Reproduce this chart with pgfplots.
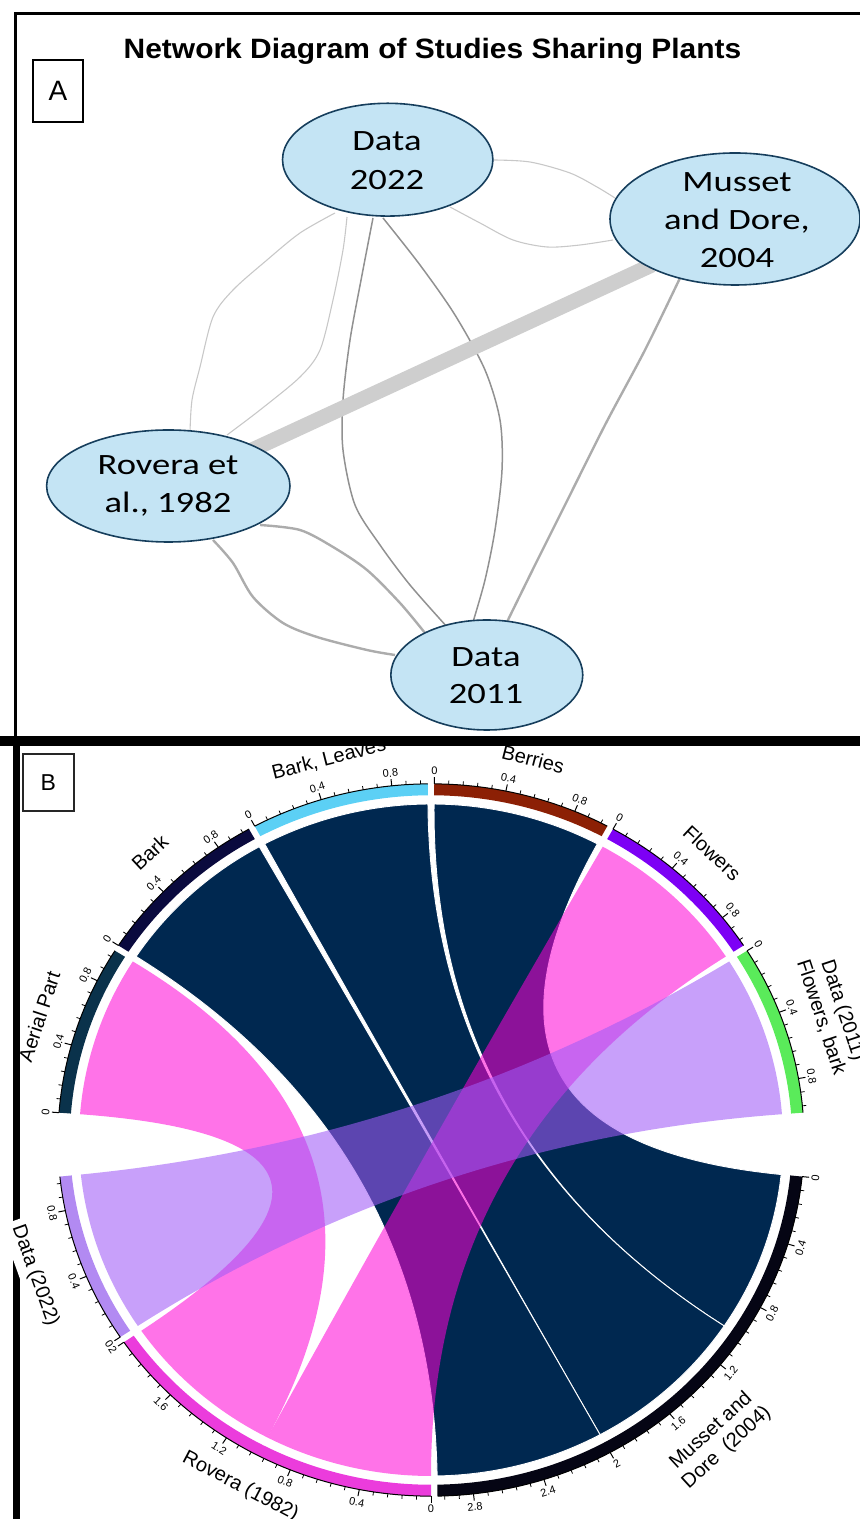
\documentclass[border=0pt]{standalone}
\usepackage{pgfplots}
\pgfplotsset{compat=1.18}
\usepackage{fontspec}
\setmainfont{Liberation Sans}
\newfontfamily\nodefont[FakeStretch=1.24]{Carlito}
\newfontfamily\titlefont[FakeStretch=1.07]{Liberation Sans}

% network colours
\definecolor{nodefill}{RGB}{196,228,244}
\definecolor{nodeedge}{RGB}{22,62,92}
\definecolor{edgelight}{RGB}{200,200,200}
\definecolor{edgemid}{RGB}{145,145,145}
\definecolor{edgedark}{RGB}{172,172,172}
\definecolor{bandgray}{RGB}{206,206,206}
% chord colours
\definecolor{navylink}{RGB}{0,40,80}
\definecolor{pinkbase}{RGB}{255,0,213}
\definecolor{lavbase}{RGB}{160,91,246}
\definecolor{cBerries}{RGB}{140,32,5}
\definecolor{cFlowers}{RGB}{125,0,245}
\definecolor{cDataA}{RGB}{90,235,90}
\definecolor{cMusset}{RGB}{5,5,20}
\definecolor{cRovera}{RGB}{235,60,220}
\definecolor{cDataB}{RGB}{178,138,242}
\definecolor{cAerial}{RGB}{10,50,75}
\definecolor{cBark}{RGB}{10,10,62}
\definecolor{cBarkLeaves}{RGB}{92,208,245}

% degrees of arc per shared plant, ring radii (link radius = 1)
\def\U{27.7}
\def\ri{1.026}
\def\ro{1.06}

% link between two sectors: style, start angle A, start angle B, value
% angles are measured clockwise from the top
\newcommand{\chordlink}[4]{%
  \pgfmathsetmacro{\aA}{90-#2}\pgfmathsetmacro{\aB}{90-#2-#4*\U}%
  \pgfmathsetmacro{\bA}{90-#3}\pgfmathsetmacro{\bB}{90-#3-#4*\U}%
  \path[#1] (\aA:1) arc[start angle=\aA, end angle=\aB, radius=1]
    .. controls (\aB:1/3) and (\bA:1/3) .. (\bA:1)
    arc[start angle=\bA, end angle=\bB, radius=1]
    .. controls (\bB:1/3) and (\aA:1/3) .. cycle;}

% outer ring of a sector with its scale: colour, start angle, value
\newcommand{\sector}[3]{%
  \pgfmathsetmacro{\sA}{90-#2}\pgfmathsetmacro{\sB}{90-#2-#3*\U}%
  \fill[#1] (\sA:\ri) arc[start angle=\sA, end angle=\sB, radius=\ri]
     -- (\sB:\ro) arc[start angle=\sB, end angle=\sA, radius=\ro] -- cycle;
  \draw[black, line width=0.5pt] (\sA:\ro) arc[start angle=\sA, end angle=\sB, radius=\ro];
  \pgfmathtruncatemacro{\nk}{#3/0.08+0.01}%
  \foreach \k in {0,...,\nk}{%
    \pgfmathsetmacro{\tph}{#2+\k*0.08*\U}%
    \pgfmathsetmacro{\tal}{90-\tph}%
    \pgfmathtruncatemacro{\maj}{mod(\k,5)==0 ? 1 : 0}%
    \ifnum\maj=1
      \draw[black, line width=0.5pt] (\tal:\ro) -- (\tal:\ro+0.02);
      \pgfmathsetmacro{\tv}{\k*0.08}%
      \pgfmathsetmacro{\trot}{(\tph>90 && \tph<270) ? 180-\tph : -\tph}%
      \node[font=\fontsize{5.5}{6}\selectfont, rotate=\trot, inner sep=0pt]
        at (\tal:1.098) {\pgfmathprintnumber[assume math mode=true]{\tv}};
    \else
      \draw[black, line width=0.4pt] (\tal:\ro) -- (\tal:\ro+0.011);
    \fi
  }}

% sector name: angle, radius, extra style, text
\newcommand{\seclabel}[4]{%
  \pgfmathsetmacro{\lrot}{(#1>90 && #1<270) ? 180-#1 : -#1}%
  \node[font=\fontsize{10}{11.5}\selectfont, rotate=\lrot, align=center,
    inner sep=1pt, #3] at (90-#1:#2) {#4};}

\begin{document}
\begin{tikzpicture}
\useasboundingbox (0pt,0pt) rectangle (430pt,759.5pt);

% panel frames
\fill[black] (0pt,386.25pt) rectangle (430pt,391.25pt);
\draw[line width=1.5pt] (7.75pt,386.5pt) -- (7.75pt,752.75pt) -- (432pt,752.75pt);
\fill[black] (6.5pt,0pt) rectangle (10pt,386.5pt);

% ---------------- panel A: network of studies ----------------
\begin{axis}[at={(0pt,389.5pt)}, anchor=south west,
  width=430pt, height=370pt, scale only axis,
  xmin=0, xmax=860, ymin=0, ymax=740, y dir=reverse,
  axis lines=none, clip=false]

% Data 2022 -- Rovera et al., 1982
\addplot[smooth, edgelight, line width=0.55pt] coordinates
  {(335,213) (300,233) (267,260) (233,290) (213,317) (200,367) (192,400) (190,432)};
\addplot[smooth, edgelight, line width=0.55pt] coordinates
  {(347,217) (343,250) (333,300) (320,350) (300,377) (260,410) (227,435)};
% Data 2022 -- Data 2011
\addplot[smooth, edgemid, line width=0.75pt] coordinates
  {(373,218) (362,275) (350,340) (343,400) (343,450) (355,505) (380,545)
   (410,585) (448,628)};
\addplot[smooth, edgemid, line width=0.75pt] coordinates
  {(383,218) (420,265) (455,315) (485,370) (500,420) (502,470) (495,530)
   (485,580) (473,622)};
% Data 2022 -- Musset and Dore, 2004
\addplot[smooth, edgelight, line width=0.55pt] coordinates
  {(493,160) (530,162) (570,173) (597,187) (615,198)};
\addplot[smooth, edgelight, line width=0.55pt] coordinates
  {(450,207) (480,223) (513,240) (547,247) (580,245) (613,240)};
% Rovera et al., 1982 -- Musset and Dore, 2004
\addplot[bandgray, line width=7.5pt] coordinates {(252,450) (652,265)};
% Musset and Dore, 2004 -- Data 2011
\addplot[smooth, edgedark, line width=1.2pt] coordinates
  {(680,278) (645,350) (605,425) (565,505) (535,565) (507,622)};
% Rovera et al., 1982 -- Data 2011
\addplot[smooth, edgedark, line width=1.2pt] coordinates
  {(260,525) (300,530) (333,547) (367,570) (400,603) (425,633)};
\addplot[smooth, edgedark, line width=1.2pt] coordinates
  {(213,540) (233,563) (253,597) (283,623) (317,637) (367,650) (395,655)};

% study nodes
\addplot[only marks, mark=*, mark size=28.2pt,
  mark options={xscale=1.865, fill=nodefill, draw=nodeedge, line width=0.8pt}]
  coordinates {(387.7,159.7)};
\addplot[only marks, mark=*, mark size=33pt,
  mark options={xscale=1.894, fill=nodefill, draw=nodeedge, line width=0.8pt}]
  coordinates {(735,219)};
\addplot[only marks, mark=*, mark size=28pt,
  mark options={xscale=2.173, fill=nodefill, draw=nodeedge, line width=0.8pt}]
  coordinates {(168.3,486)};
\addplot[only marks, mark=*, mark size=27.5pt,
  mark options={xscale=1.745, fill=nodefill, draw=nodeedge, line width=0.8pt}]
  coordinates {(486.8,675)};
\end{axis}

% node names
\node[font=\nodefont\fontsize{14.75}{19.5}\selectfont, align=center]
  at (193.5pt,679pt) {Data\\2022};
\node[font=\nodefont\fontsize{14.75}{19}\selectfont, align=center]
  at (368.5pt,649.5pt) {Musset\\and Dore,\\2004};
\node[font=\nodefont\fontsize{14.75}{19}\selectfont, align=center]
  at (84pt,516.5pt) {Rovera et\\al., 1982};
\node[font=\nodefont\fontsize{14.75}{18.5}\selectfont, align=center]
  at (243pt,421.5pt) {Data\\2011};

% title and panel tags
\node[font=\titlefont\bfseries\fontsize{14}{17}\selectfont, anchor=base]
  at (216.25pt,730pt) {Network Diagram of Studies Sharing Plants};
\draw[line width=1pt] (16.5pt,729.5pt) rectangle (41.5pt,698.5pt);
\node[font=\fontsize{14}{16}\selectfont] at (29pt,714pt) {A};
\draw[line width=0.9pt, black!85] (11.35pt,382.5pt) rectangle (37pt,354.15pt);
\node[font=\fontsize{11.5}{13}\selectfont] at (24.2pt,368.3pt) {B};

% ---------------- panel B: chord diagram ----------------
\begin{axis}[at={(0pt,0pt)}, anchor=south west,
  width=430pt, height=389.5pt, scale only axis,
  xmin=-1.22443, xmax=1.21875, ymin=-1.12798, ymax=1.19048,
  axis lines=none, clip=false]
\pgfplotsextra{%
\begin{scope}[shift={(axis cs:0,0)},
  x={(axis direction cs:1,0)}, y={(axis direction cs:0,1)}]
  % links of Musset and Dore (2004)
  \chordlink{fill=navylink, draw=white, line width=0.45pt}{0.5}{95.9}{1}
  \chordlink{fill=navylink, draw=white, line width=0.45pt}{331.8}{123.6}{1}
  \chordlink{fill=navylink, draw=white, line width=0.45pt}{303.1}{151.3}{1}
  % links of Rovera (1982)
  \chordlink{fill=pinkbase, fill opacity=0.55}{29.2}{180.0}{1}
  \chordlink{fill=pinkbase, fill opacity=0.55}{274.4}{207.7}{1}
  % link of Data (2022)
  \chordlink{fill=lavbase, fill opacity=0.58}{57.9}{236.4}{1}

  % sectors: colour, start angle, total
  \sector{cBerries}{0.5}{1}
  \sector{cFlowers}{29.2}{1}
  \sector{cDataA}{57.9}{1}
  \sector{cMusset}{95.9}{3}
  \sector{cRovera}{180.0}{2}
  \sector{cDataB}{236.4}{1}
  \sector{cAerial}{274.4}{1}
  \sector{cBark}{303.1}{1}
  \sector{cBarkLeaves}{331.8}{1}

  \seclabel{14.35}{1.17}{}{Berries}
  \seclabel{43.05}{1.17}{}{Flowers}
  \seclabel{71.75}{1.2}{}{Data (2011)\\Flowers, bark}
  \seclabel{137.45}{1.21}{}{Musset and\\Dore\ \ (2004)}
  \seclabel{207.7}{1.165}{}{Rovera (1982)}
  \seclabel{250.25}{1.195}{fill=white, inner sep=3pt}{Data (2022)}
  \seclabel{288.25}{1.172}{}{Aerial Part}
  \seclabel{316.95}{1.17}{}{Bark}
  \seclabel{345.65}{1.17}{}{Bark, Leaves}
\end{scope}}
\end{axis}
\end{tikzpicture}
\end{document}
